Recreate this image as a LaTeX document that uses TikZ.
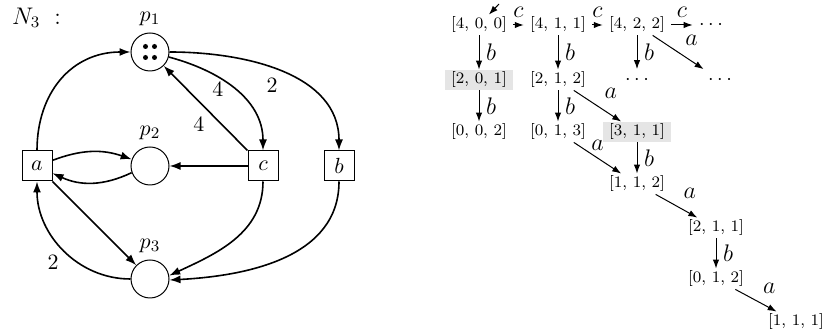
\documentclass[tikz,border=0pt]{standalone}
\usetikzlibrary{arrows.meta,calc}
\newcommand{\spreaddots}{$\mathord{\cdot}\hspace{1.8pt}\mathord{\cdot}\hspace{1.8pt}\mathord{\cdot}$}
\begin{document}
\begin{tikzpicture}[x=0.5pt,y=-0.5pt,
  every node/.style={font=\fontsize{11}{13}\selectfont},
  place/.style={circle,draw,line width=0.5pt,minimum size=19pt,inner sep=0pt},
  trans/.style={rectangle,draw,line width=0.5pt,minimum size=15pt,inner sep=0pt},
  arc/.style={-{Latex[length=5.5pt,width=4pt]},line width=0.8pt},
  state/.style={font=\footnotesize,inner xsep=3pt,inner ysep=1pt},
  marked/.style={state,fill=gray!20},
  more/.style={inner sep=3pt,font=\normalsize},
  edge/.style={-{Latex[length=4.5pt,width=3.2pt]},line width=0.5pt},
  rl/.style={font=\large},
  tok/.style={fill=black}
]
\useasboundingbox (0,0) rectangle (826,335);

% ---------------- Petri net ----------------
\node[anchor=west,font=\large] (title) at (5,18) {$N_3$\hspace{7pt}:};

\node[place,label={above:$p_1$}] (p1) at (150,52) {};
\node[place,label={above:$p_2$}] (p2) at (150,166) {};
\node[place,label={above:$p_3$}] (p3) at (150,279) {};
\node[trans] (a) at (37,166) {$a$};
\node[trans] (c) at (263,166) {$c$};
\node[trans] (b) at (339,166) {$b$};

\foreach \dx/\dy in {-4.5/-5.5,4.5/-5.5,-4.5/5.5,4.5/5.5}
  \fill[tok] ($(p1)+(\dx,\dy)$) circle (1.25pt);

\draw[arc] (a.north) to[out=90,in=180,looseness=1.1] (p1.west);
\draw[arc] (p1.-15) to[out=-15,in=90] node[pos=0.5,left=2pt] {$4$} (c.north);
\draw[arc] (p1.east) to[out=0,in=90] node[pos=0.5,below left=-1pt] {$2$} (b.north);
\draw[arc] (c.north west) -- node[pos=0.45,below left=-1pt] {$4$} (p1);
\draw[arc] (a.20) to[bend left=20] (p2.160);
\draw[arc] (p2.200) to[bend left=25] (a.-25);
\draw[arc] (c.west) -- (p2.east);
\draw[arc] (a.south east) -- (p3);
\draw[arc] (p3.west) to[out=180,in=-90] node[pos=0.5,below left=-1pt] {$2$} (a.south);
\draw[arc] (c.south) to[out=-90,in=25] (p3.10);
\draw[arc] (b.south) to[out=-90,in=3] (p3.-3);

% ---------------- reachability graph ----------------
\node[state]  (s400) at (479,25)  {[4, 0, 0]};
\node[state]  (s411) at (558,25)  {[4, 1, 1]};
\node[state]  (s422) at (637,25)  {[4, 2, 2]};
\node[more]   (d1)   at (711,25)  {\spreaddots};
\node[marked] (s201) at (479,80)  {[2, 0, 1]};
\node[state]  (s212) at (558,80)  {[2, 1, 2]};
\node[more]   (d2)   at (637,80)  {\spreaddots};
\node[more]   (d3)   at (720,80)  {\spreaddots};
\node[state]  (s002) at (479,132) {[0, 0, 2]};
\node[state]  (s013) at (558,132) {[0, 1, 3]};
\node[marked] (s311) at (637,132) {[3, 1, 1]};
\node[state]  (s112) at (637,184) {[1, 1, 2]};
\node[state]  (s211) at (716,228) {[2, 1, 1]};
\node[state]  (s012) at (716,279) {[0, 1, 2]};
\node[state]  (s111) at (796,322) {[1, 1, 1]};

\coordinate (init) at (499,4);
\draw[edge] (init) -- (s400);

\draw[edge] (s400) -- node[above,rl] {$c$} (s411);
\draw[edge] (s411) -- node[above,rl] {$c$} (s422);
\draw[edge] (s422) -- node[above,rl] {$c$} (d1);
\draw[edge] (s422) -- node[right,rl] {$b$} (d2);
\draw[edge] (s422) -- node[above right,rl] {$a$} (d3);
\draw[edge] (s400) -- node[right,rl] {$b$} (s201);
\draw[edge] (s201) -- node[right,rl] {$b$} (s002);
\draw[edge] (s411) -- node[right,rl] {$b$} (s212);
\draw[edge] (s212) -- node[right,rl] {$b$} (s013);
\draw[edge] (s212) -- node[above right,rl] {$a$} (s311);
\draw[edge] (s013) -- node[above,rl] {$a$} (s112);
\draw[edge] (s311) -- node[right,rl] {$b$} (s112);
\draw[edge] (s112) -- node[above right,rl] {$a$} (s211);
\draw[edge] (s211) -- node[right,rl] {$b$} (s012);
\draw[edge] (s012) -- node[above right,rl] {$a$} (s111);
\end{tikzpicture}
\end{document}
